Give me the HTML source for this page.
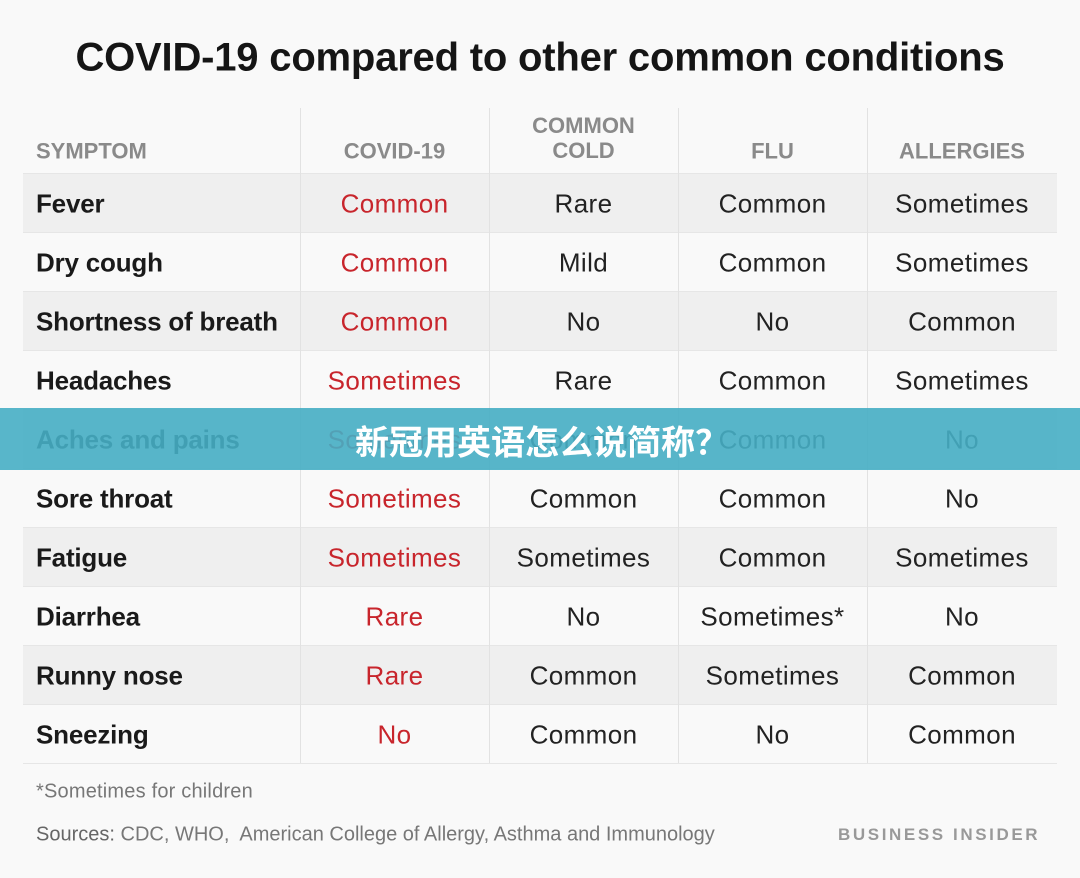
<!DOCTYPE html>
<html><head><meta charset="utf-8"><style>
body{margin:0;width:1080px;height:878px;background:#f9f9f9;font-family:"Liberation Sans","Noto Sans CJK SC",sans-serif;position:relative;overflow:hidden}
.a{position:absolute}
.t{white-space:nowrap;transform:translate(-50%,-50%)}
.l{white-space:nowrap;transform:translateY(-50%)}
</style></head><body>
<div class="a t" style="left:540px;top:58px;font-size:40px;font-weight:bold;color:#151515;letter-spacing:-0.2px">COVID-19 compared to other common conditions</div>
<div id="tbl"></div>
<div class="a l" style="left:36px;top:792px;font-size:20px;color:#777;letter-spacing:0.2px">*Sometimes for children</div>
<div class="a l" style="left:36px;top:835px;font-size:20px;color:#777;letter-spacing:0px"><span style="color:#666">Sources:</span> CDC, WHO,&nbsp; American College of Allergy, Asthma and Immunology</div>
<div class="a l" style="left:838px;top:835px;font-size:17px;color:#999;font-weight:bold;letter-spacing:2.6px">BUSINESS INSIDER</div>
<div class="a" style="left:0;top:408px;width:1080px;height:62px;background:rgba(70,174,196,0.9)"></div>
<div class="a t" style="left:542px;top:440px;font-size:34px;font-weight:bold;color:#fff;font-family:'Noto Sans CJK SC',sans-serif">新冠用英语怎么说简称？</div>
<script>
const headers=["SYMPTOM","COVID-19","COMMON\nCOLD","FLU","ALLERGIES"];
const symptoms=["Fever","Dry cough","Shortness of breath","Headaches","Aches and pains","Sore throat","Fatigue","Diarrhea","Runny nose","Sneezing"];
const covid=["Common","Common","Common","Sometimes","Sometimes","Sometimes","Sometimes","Rare","Rare","No"];
const cold=["Rare","Mild","No","Rare","Common","Common","Sometimes","No","Common","Common"];
const flu=["Common","Common","No","Common","Common","Common","Common","Sometimes*","Sometimes","No"];
const allergies=["Sometimes","Sometimes","Common","Sometimes","No","No","Sometimes","No","Common","Common"];
const tbl=document.getElementById('tbl');
const top0=173,rh=59,colX=[23,300,489,678,867,1057];
function add(html,cls,style,name){const d=document.createElement('div');d.className='a '+cls;d.style.cssText=style;d.innerHTML=html;


tbl.appendChild(d);return d;}
symptoms.forEach((s,i)=>{const y=top0+i*rh;
add('','',`left:23px;top:${y}px;width:1034px;height:${rh}px;background:${i%2==0?'#efefef':'#f9f9f9'};border-top:1px solid #e6e6e6;box-sizing:border-box`,'row-bg');
add(s,'l',`left:36px;top:${y+rh/2+1}px;font-size:26px;font-weight:bold;color:#1a1a1a;letter-spacing:-0.2px`,'symptom-label');
[covid,cold,flu,allergies].forEach((arr,j)=>{
add(arr[i],'t',`left:${(colX[j+1]+colX[j+2])/2}px;top:${y+rh/2+1}px;font-size:26px;color:${j==0?'#c8252c':'#222'};letter-spacing:0.4px`,'cell-value');});
});
for(let j=1;j<5;j++)add('','',`left:${colX[j]}px;top:108px;width:1px;height:655px;background:#e2e2e2`,'column-divider');
add('','',`left:23px;top:763px;width:1034px;height:1px;background:#e6e6e6`,'table-bottom');
headers.forEach((h,j)=>{const x=j==0?36:(colX[j]+colX[j+1])/2;
add(h.replace('\n','<br>'),j==0?'l':'t',`left:${x}px;top:${j==2?138:151}px;font-size:22px;font-weight:bold;color:#8a8a8a;text-align:center;line-height:25px`,'column-header');});
</script>
</body></html>
